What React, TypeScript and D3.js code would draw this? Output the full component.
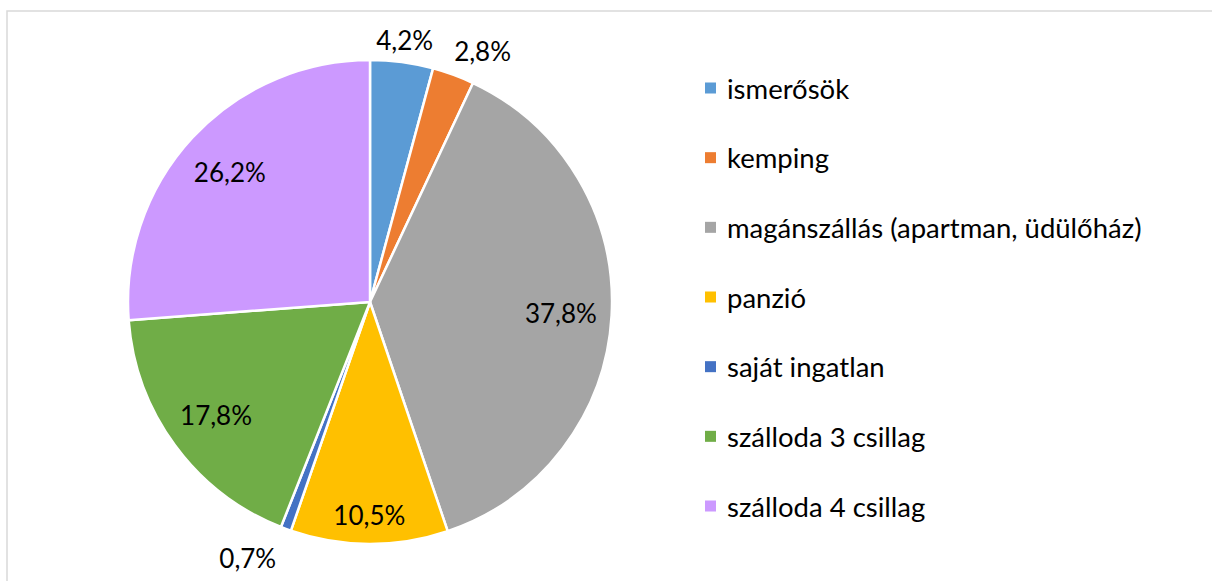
import React, { useEffect, useRef } from "react";
import * as d3 from "d3";

const categories = [
  "ismerősök",
  "kemping",
  "magánszállás (apartman, üdülőház)",
  "panzió",
  "saját ingatlan",
  "szálloda 3 csillag",
  "szálloda 4 csillag",
];
const shares = [4.2, 2.8, 37.8, 10.5, 0.7, 17.8, 26.2];
const colors = ["#5B9BD5", "#ED7D31", "#A5A5A5", "#FFC000", "#4472C4", "#70AD47", "#CC99FF"];

const W = 1212;
const H = 581;
const FONT = "Lato, 'Open Sans', sans-serif";

export default function App() {
  const ref = useRef<SVGSVGElement>(null);

  useEffect(() => {
    const svg = d3.select(ref.current);
    svg.selectAll("*").remove();

    // chart frame (cropped at right and bottom)
    svg
      .append("rect")
      .attr("x", 7)
      .attr("y", 11)
      .attr("width", 1300)
      .attr("height", 700)
      .attr("fill", "#fff")
      .attr("stroke", "#D9D9D9")
      .attr("stroke-width", 1.5);

    const cx = 370,
      cy = 302,
      r = 242;

    const data = categories.map((c, i) => ({ name: c, value: shares[i], color: colors[i] }));
    const pie = d3
      .pie<any>()
      .sort(null)
      .value((d) => d.value);
    const arcs = pie(data);
    const arc = d3.arc<any>().innerRadius(0).outerRadius(r);

    const g = svg.append("g").attr("transform", `translate(${cx},${cy})`);

    g.selectAll("path")
      .data(arcs)
      .join("path")
      .attr("d", arc)
      .attr("fill", (d) => d.data.color)
      .attr("stroke", "#fff")
      .attr("stroke-width", 2.5)
      .attr("stroke-linejoin", "round");

    // label radius: small slices outside, the rest inside
    const labelR = (d: any) => {
      const v = d.data.value;
      if (v < 1) return r + 42;
      if (v < 3) return r + 33;
      if (v < 5) return r + 22;
      if (v < 12) return r * 0.88;
      return r * 0.79;
    };
    const labelShift = (d: any) => (d.data.value < 3 && d.data.value > 1 ? 0.07 : d.data.value < 1 ? 0.09 : 0);

    g.selectAll("text.lbl")
      .data(arcs)
      .join("text")
      .attr("class", "lbl")
      .attr("x", (d) => {
        const a = (d.startAngle + d.endAngle) / 2 + labelShift(d);
        return Math.sin(a) * labelR(d);
      })
      .attr("y", (d) => {
        const a = (d.startAngle + d.endAngle) / 2 + labelShift(d);
        return -Math.cos(a) * labelR(d);
      })
      .attr("text-anchor", "middle")
      .attr("dominant-baseline", "central")
      .style("font-family", FONT)
      .style("font-size", "26px")
      .attr("fill", "#000")
      .text((d) => d.data.value.toFixed(1).replace(".", ",") + "%");

    // legend
    const y = d3
      .scalePoint<string>()
      .domain(categories)
      .range([88, 506]);
    const leg = svg
      .selectAll("g.leg")
      .data(data)
      .join("g")
      .attr("class", "leg")
      .attr("transform", (d) => `translate(705,${y(d.name)})`);
    leg
      .append("rect")
      .attr("x", 0)
      .attr("y", -5.5)
      .attr("width", 11)
      .attr("height", 11)
      .attr("fill", (d) => d.color);
    leg
      .append("text")
      .attr("x", 22)
      .attr("y", 0)
      .attr("dominant-baseline", "central")
      .style("font-family", FONT)
      .style("font-size", "27.5px")
      .attr("fill", "#000")
      .text((d) => d.name);
  }, []);

  return (
    <svg
      ref={ref}
      width={W}
      height={H}
      style={{ position: "absolute", left: 0, top: 0, background: "#fff" }}
    />
  );
}
